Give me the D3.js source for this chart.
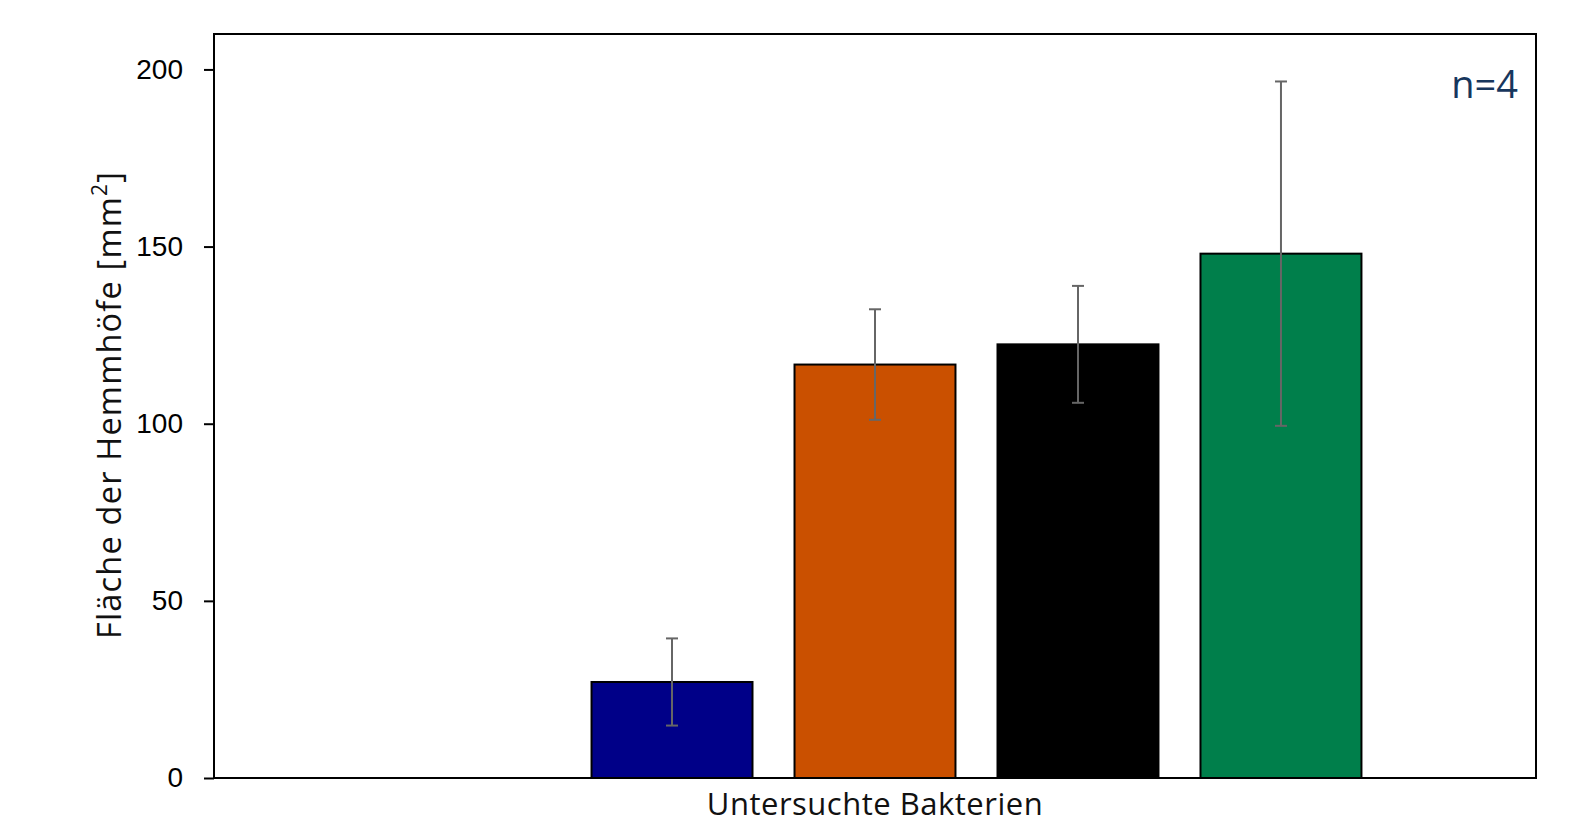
<!DOCTYPE html>
<html><head><meta charset="utf-8">
<script src="https://cdn.jsdelivr.net/npm/d3@7"></script>
<style>body{margin:0;background:#fff}svg{display:block}</style>
</head><body>
<svg id="c" width="1584" height="828"></svg>
<script>
const categories = ["Untersuchte Bakterien"];
const series = ["Kontrolle", "Bakterium A", "Bakterium B", "Bakterium C", "Bakterium D"];
const values = [0, 27.1, 116.7, 122.4, 148.0];
const errors = [0, 12.3, 15.6, 16.5, 48.6];
const colors = ["#ffffff", "#000088", "#CA5000", "#000000", "#007F4B"];
const yTicks = [0, 50, 100, 150, 200];

const svg = d3.select("#c");
const m = {l:214, r:48, t:34, b:50};
const W = 1584, H = 828;
const x0 = d3.scaleBand().domain(categories).range([m.l, W - m.r]).paddingInner(0.1314).paddingOuter(0.1314);
const x1 = d3.scaleBand().domain(series).range([0, x0.bandwidth()]).paddingInner(0.207).paddingOuter(0.1035);
const y = d3.scaleLinear().domain([0, 210]).range([H - m.b, m.t]);

const g = svg.append("g");
categories.forEach(cat => {
  series.forEach((s, i) => {
    if (values[i] <= 0) return;
    const bx = x0(cat) + x1(s);
    g.append("rect").attr("x", bx).attr("y", y(values[i]))
      .attr("width", x1.bandwidth()).attr("height", y(0) - y(values[i]))
      .attr("fill", colors[i]).attr("stroke", "#000").attr("stroke-width", 2);
  });
  series.forEach((s, i) => {
    if (errors[i] <= 0) return;
    const cx = x0(cat) + x1(s) + x1.bandwidth() / 2;
    const hi = y(values[i] + errors[i]), lo = y(values[i] - errors[i]);
    const eg = g.append("g").attr("stroke", "#666").attr("stroke-width", 2);
    eg.append("line").attr("x1", cx).attr("x2", cx).attr("y1", hi).attr("y2", lo);
    eg.append("line").attr("x1", cx - 6).attr("x2", cx + 6).attr("y1", hi).attr("y2", hi);
    eg.append("line").attr("x1", cx - 6).attr("x2", cx + 6).attr("y1", lo).attr("y2", lo);
  });
});

svg.append("rect").attr("x", m.l).attr("y", m.t).attr("width", W - m.r - m.l).attr("height", H - m.b - m.t)
  .attr("fill", "none").attr("stroke", "#000").attr("stroke-width", 2);

const ya = svg.append("g").attr("transform", `translate(${m.l},0)`)
  .call(d3.axisLeft(y).tickValues(yTicks).tickSize(10).tickPadding(21));
ya.select(".domain").remove();
ya.selectAll(".tick line").attr("stroke", "#000").attr("stroke-width", 2);
ya.selectAll(".tick text").attr("font-family", "Liberation Sans, Arial, sans-serif").attr("font-size", 28).attr("fill", "#000");

svg.append("text").attr("x", x0(categories[0]) + x0.bandwidth() / 2).attr("y", 815)
  .attr("text-anchor", "middle").attr("font-family", "Open Sans, Noto Sans, sans-serif")
  .attr("font-size", 31).attr("letter-spacing", 0.5).attr("fill", "#111").text(categories[0]);

const yl = svg.append("text").attr("transform", `translate(121,${(m.t + H - m.b) / 2 - 1}) rotate(-90)`)
  .attr("text-anchor", "middle").attr("font-family", "Open Sans, Noto Sans, sans-serif")
  .attr("font-size", 32.5).attr("letter-spacing", 1.2).attr("fill", "#111");
yl.append("tspan").text("Fläche der Hemmhöfe [mm");
yl.append("tspan").attr("baseline-shift", "super").attr("font-size", 21).text("2");
yl.append("tspan").text("]");

svg.append("text").attr("x", 1518).attr("y", 98).attr("text-anchor", "end")
  .attr("font-family", "Open Sans, Noto Sans, sans-serif").attr("font-size", 38)
  .attr("fill", "#17365D").text("n=4");
</script>
</body></html>
